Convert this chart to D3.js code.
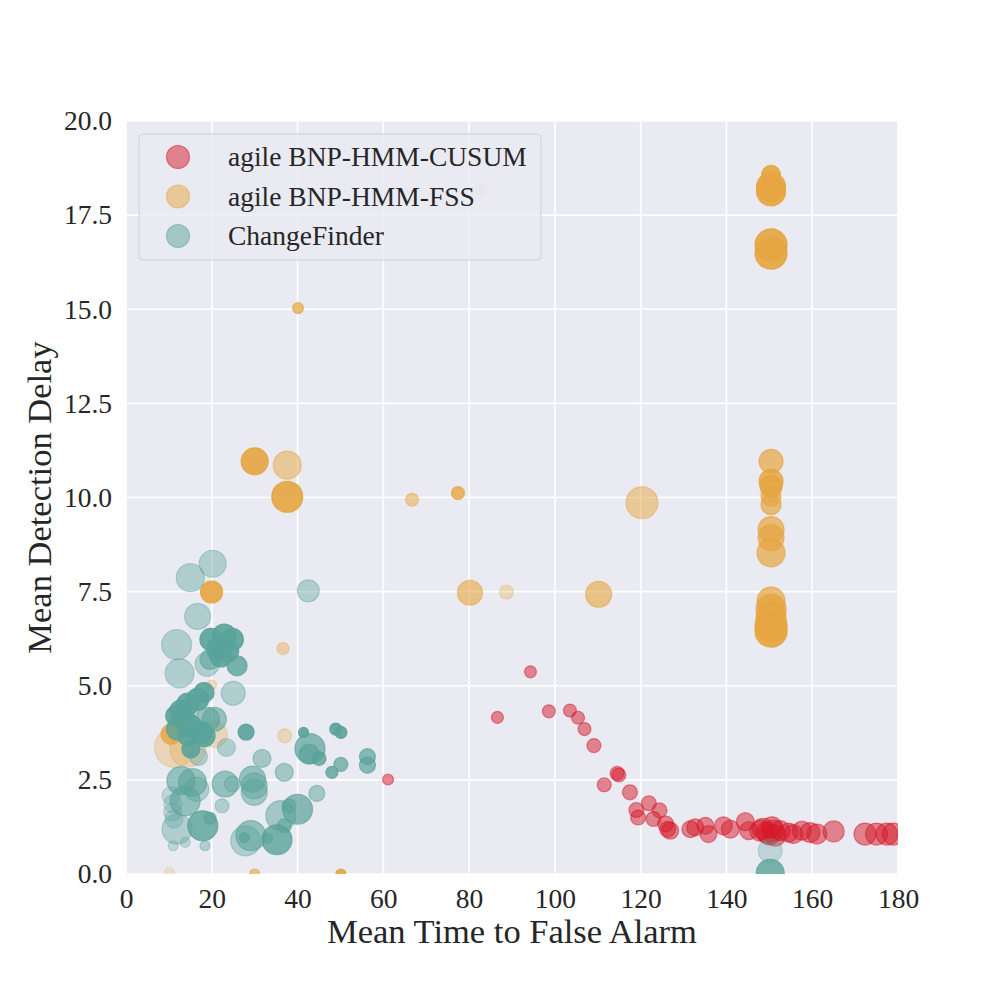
<!DOCTYPE html>
<html>
<head>
<meta charset="utf-8">
<script src="https://cdn.jsdelivr.net/npm/d3@7"></script>
<style>
  body { margin: 0; background: #fff; }
  text { font-family: "Liberation Serif", "Times New Roman", serif; fill: #262626; }
</style>
</head>
<body>
<div id="chart"></div>
<script>
// series names, in legend order
var seriesNames = ["agile BNP-HMM-CUSUM", "agile BNP-HMM-FSS", "ChangeFinder"];
var seriesColors = ["#d61a2a", "#e6a540", "#5aa39a"];

// agile BNP-HMM-CUSUM
var cusumX = [61.1, 86.6, 94.3, 98.6, 103.5, 105.4, 106.9, 109.1, 111.5, 114.5, 114.9, 117.5, 119.0, 119.4,
  121.9, 124.4, 123.0, 125.8, 126.3, 126.9, 131.6, 132.7, 135.1, 135.8, 139.3, 140.9, 144.4, 145.2,
  147.9, 148.5, 149.4, 150.0, 150.6, 151.0, 151.4, 152.5, 154.5, 155.6, 157.6, 159.5, 161.1, 165.0,
  172.3, 175.0, 177.4, 178.9];
var cusumY = [2.51, 4.16, 5.37, 4.32, 4.34, 4.15, 3.85, 3.41, 2.37, 2.67, 2.63, 2.17, 1.70, 1.50,
  1.88, 1.69, 1.46, 1.33, 1.19, 1.15, 1.19, 1.24, 1.28, 1.06, 1.28, 1.19, 1.39, 1.15,
  1.15, 1.20, 1.10, 1.05, 1.24, 1.15, 1.02, 1.15, 1.10, 1.06, 1.15, 1.10, 1.06, 1.13,
  1.06, 1.06, 1.06, 1.06];
var cusumSize = [30, 36, 36, 42, 42, 42, 42, 49, 49, 49, 49, 56, 56, 56,
  56, 56, 56, 64, 64, 72, 72, 72, 72, 72, 81, 81, 81, 81,
  110, 110, 110, 110, 110, 110, 110, 100, 90, 90, 90, 100, 100, 110,
  121, 121, 121, 121];
var cusumAlpha = [0.5, 0.5, 0.5, 0.5, 0.5, 0.5, 0.5, 0.5, 0.5, 0.5, 0.5, 0.5, 0.5, 0.5,
  0.5, 0.5, 0.5, 0.5, 0.5, 0.5, 0.5, 0.5, 0.5, 0.5, 0.5, 0.5, 0.5, 0.5,
  0.5, 0.5, 0.5, 0.5, 0.5, 0.5, 0.5, 0.5, 0.5, 0.5, 0.5, 0.5, 0.5, 0.5,
  0.5, 0.5, 0.5, 0.5];

// agile BNP-HMM-FSS
var fssX = [40.1, 82.8, 30.0, 37.6, 37.6, 66.7, 77.4, 120.3, 80.2, 88.7, 110.2, 19.95, 36.6, 19.95,
  37.0, 11.3, 14.4, 20.6, 10.5, 10.1, 30.0, 50.1,
  150.4, 150.4, 150.4, 150.4, 150.4, 150.4, 150.4, 150.4, 150.4, 150.4, 150.4, 150.4, 150.4,
  150.4, 150.4, 150.4, 150.4, 150.4];
var fssY = [15.03, 18.2, 10.96, 10.86, 10.02, 9.94, 10.12, 9.86, 7.47, 7.49, 7.43, 7.49, 5.99, 5.02,
  3.67, 3.36, 3.32, 3.71, 3.71, 0.04, 0.0, 0.0,
  18.57, 18.13, 18.25, 16.71, 16.49, 10.96, 10.43, 10.30, 10.03, 9.81, 9.15, 8.93, 8.53,
  7.25, 7.03, 6.81, 6.59, 6.45];
var fssSize = [30, 36, 182, 196, 240, 42, 42, 256, 156, 49, 169, 121, 36, 25,
  49, 400, 324, 169, 100, 25, 25, 25,
  90, 210, 210, 256, 256, 144, 144, 121, 100, 100, 169, 169, 196,
  196, 225, 225, 256, 256];
var fssAlpha = [0.7, 0.2, 0.9, 0.5, 0.9, 0.5, 0.8, 0.5, 0.6, 0.3, 0.6, 0.9, 0.4, 0.3,
  0.3, 0.3, 0.3, 0.3, 0.8, 0.2, 0.6, 0.9,
  0.9, 0.9, 0.9, 0.9, 0.9, 0.7, 0.8, 0.8, 0.7, 0.7, 0.7, 0.7, 0.7,
  0.7, 0.8, 0.8, 0.9, 0.9];

// ChangeFinder
var cfX = [20.2, 15.0, 16.7, 11.8, 12.5, 42.5, 19.8, 22.9, 24.8, 21.4, 23.7, 22.1, 18.9, 25.9, 19.6, 25.0,
  18.2, 16.7, 14.4, 12.8, 11.6, 13.6, 19.0, 20.6, 15.1, 12.0, 17.5, 14.4, 18.2, 15.1, 23.4, 16.9,
  28.0, 41.4, 42.9, 42.7, 45.0, 48.9, 50.1, 31.7, 36.9, 50.1, 48.0, 56.3, 56.3, 44.5,
  12.8, 15.5, 16.5, 13.8, 10.5, 10.9, 10.9, 11.2, 23.1, 24.8, 29.5, 29.9, 29.9, 22.4,
  11.9, 17.9, 19.6, 11.0, 13.8, 18.4, 36.1, 40.0, 38.0, 36.9, 27.9, 29.1, 27.6, 35.2, 33.0,
  150.2, 150.2];
var cfY = [8.24, 7.87, 6.84, 6.09, 5.33, 7.52, 6.23, 6.32, 6.23, 5.97, 5.92, 5.79, 5.57, 5.53, 5.70, 4.80,
  4.82, 4.64, 4.51, 4.33, 4.20, 4.11, 4.11, 4.11, 3.93, 3.85, 3.76, 3.67, 3.67, 3.32, 3.36, 3.12,
  3.77, 3.76, 3.33, 3.18, 3.07, 3.85, 3.76, 3.07, 2.70, 2.91, 2.70, 3.12, 2.89, 2.14,
  2.48, 2.43, 2.25, 1.94, 2.08, 1.86, 1.64, 1.46, 2.39, 2.39, 2.52, 2.34, 2.17, 1.81,
  1.19, 1.28, 1.48, 0.75, 0.84, 0.75, 1.55, 1.72, 1.81, 1.28, 0.88, 1.02, 0.97, 0.91, 0.95,
  0.62, 0.02];
var cfSize = [182, 196, 169, 225, 210, 121, 121, 144, 121, 121, 121, 121, 144, 100, 100, 144,
  100, 121, 121, 121, 100, 121, 144, 144, 121, 121, 121, 100, 121, 81, 81, 81,
  64, 25, 225, 100, 49, 36, 36, 81, 81, 49, 36, 64, 64, 64,
  196, 196, 144, 225, 81, 81, 81, 81, 169, 64, 169, 169, 169, 49,
  225, 225, 36, 25, 25, 25, 225, 225, 49, 49, 225, 225, 25, 225, 25,
  144, 196];
var cfAlpha = [0.4, 0.4, 0.4, 0.4, 0.4, 0.4, 0.9, 0.9, 0.9, 0.9, 0.9, 0.9, 0.4, 0.8, 0.6, 0.4,
  0.9, 0.9, 0.9, 0.9, 0.9, 0.8, 0.6, 0.6, 0.9, 0.8, 0.9, 0.9, 0.9, 0.9, 0.4, 0.4,
  0.9, 0.9, 0.7, 0.7, 0.8, 0.9, 0.9, 0.5, 0.5, 0.7, 0.8, 0.7, 0.7, 0.5,
  0.6, 0.6, 0.4, 0.6, 0.3, 0.3, 0.3, 0.3, 0.6, 0.4, 0.6, 0.5, 0.5, 0.4,
  0.4, 0.8, 0.6, 0.3, 0.3, 0.4, 0.5, 0.7, 0.6, 0.6, 0.4, 0.6, 0.7, 0.8, 0.6,
  0.3, 0.8];

var xTicks = [0, 20, 40, 60, 80, 100, 120, 140, 160, 180];
var yTicks = [0, 2.5, 5, 7.5, 10, 12.5, 15, 17.5, 20];

var dim = {
  width: 1000,
  height: 1000,
  left: 126,
  right: 898,
  top: 121,
  bottom: 874,
  tickFont: 27.5,
  labelFont: 34.5,
};

var svg = d3.select("#chart").append("svg")
  .attr("width", dim.width)
  .attr("height", dim.height);

var x = d3.scaleLinear().domain([0, 180]).range([dim.left, dim.right]);
var y = d3.scaleLinear().domain([0, 20]).range([dim.bottom, dim.top]);
var r = d3.scaleSqrt().domain([0, 400]).range([0, 20]);

svg.append("rect")
  .attr("x", dim.left)
  .attr("y", dim.top)
  .attr("width", dim.right - dim.left)
  .attr("height", dim.bottom - dim.top)
  .attr("fill", "#eaeaf2");

svg.append("clipPath").attr("id", "plotClip")
  .append("rect")
  .attr("x", dim.left)
  .attr("y", dim.top)
  .attr("width", dim.right - dim.left)
  .attr("height", dim.bottom - dim.top);

// grid
var grid = svg.append("g");
grid.selectAll(".vgrid").data(xTicks).enter().append("line")
  .attr("x1", function(d) { return x(d); })
  .attr("x2", function(d) { return x(d); })
  .attr("y1", dim.top)
  .attr("y2", dim.bottom)
  .attr("stroke", "#fff")
  .attr("stroke-width", 1.6);
grid.selectAll(".hgrid").data(yTicks).enter().append("line")
  .attr("y1", function(d) { return y(d); })
  .attr("y2", function(d) { return y(d); })
  .attr("x1", dim.left)
  .attr("x2", dim.right)
  .attr("stroke", "#fff")
  .attr("stroke-width", 1.6);

// axes (no tick marks, no domain line)
var xAxis = svg.append("g")
  .attr("transform", "translate(0," + dim.bottom + ")")
  .call(d3.axisBottom(x).tickValues(xTicks).tickSize(0).tickPadding(14).tickFormat(d3.format("d")));
var yAxis = svg.append("g")
  .attr("transform", "translate(" + dim.left + ",0)")
  .call(d3.axisLeft(y).tickValues(yTicks).tickSize(0).tickPadding(14).tickFormat(d3.format(".1f")));
[xAxis, yAxis].forEach(function(a) {
  a.select(".domain").remove();
  a.selectAll("text")
    .style("font-family", '"Liberation Serif", "Times New Roman", serif')
    .style("font-size", dim.tickFont + "px")
    .style("fill", "#262626");
});

// points
var series = [
  { x: cusumX, y: cusumY, s: cusumSize, a: cusumAlpha },
  { x: fssX, y: fssY, s: fssSize, a: fssAlpha },
  { x: cfX, y: cfY, s: cfSize, a: cfAlpha },
];
var pts = svg.append("g").attr("clip-path", "url(#plotClip)");
series.forEach(function(ser, k) {
  var rows = ser.x.map(function(v, i) {
    return { x: v, y: ser.y[i], s: ser.s[i], a: ser.a[i] };
  });
  pts.append("g").selectAll("circle").data(rows).enter().append("circle")
    .attr("cx", function(d) { return x(d.x); })
    .attr("cy", function(d) { return y(d.y); })
    .attr("r", function(d) { return r(d.s); })
    .attr("fill", seriesColors[k])
    .attr("fill-opacity", function(d) { return d.a; })
    .attr("stroke", seriesColors[k])
    .attr("stroke-opacity", function(d) { return d.a; })
    .attr("stroke-width", 1.2);
});

// legend
var legend = svg.append("g");
legend.append("rect")
  .attr("x", 139)
  .attr("y", 134)
  .attr("width", 402)
  .attr("height", 126)
  .attr("rx", 4)
  .attr("fill", "#eaeaf2")
  .attr("fill-opacity", 0.8)
  .attr("stroke", "#cfcfd6")
  .attr("stroke-width", 1);
seriesNames.forEach(function(name, i) {
  var ly = 157 + i * 39.5;
  legend.append("circle")
    .attr("cx", 178)
    .attr("cy", ly)
    .attr("r", 11.5)
    .attr("fill", seriesColors[i])
    .attr("fill-opacity", 0.5)
    .attr("stroke", seriesColors[i])
    .attr("stroke-opacity", 0.5)
    .attr("stroke-width", 1.2);
  legend.append("text")
    .attr("x", 228)
    .attr("y", ly + 9)
    .style("font-size", dim.tickFont + "px")
    .text(name);
});

// axis labels
svg.append("text")
  .attr("x", (dim.left + dim.right) / 2)
  .attr("y", 943)
  .style("text-anchor", "middle")
  .style("font-size", dim.labelFont + "px")
  .text("Mean Time to False Alarm");
svg.append("text")
  .attr("transform", "translate(51," + ((dim.top + dim.bottom) / 2) + ") rotate(-90)")
  .style("text-anchor", "middle")
  .style("font-size", dim.labelFont + "px")
  .text("Mean Detection Delay");
</script>
</body>
</html>
